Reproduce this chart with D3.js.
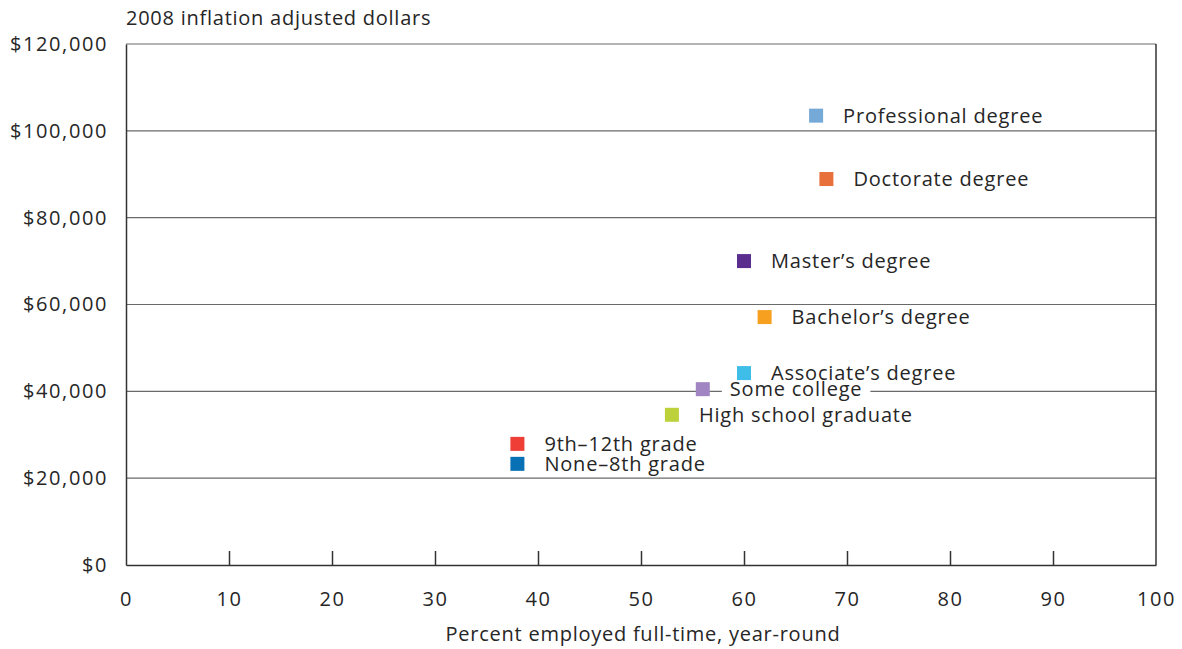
<!DOCTYPE html>
<html><head><meta charset="utf-8">
<script src="https://cdn.jsdelivr.net/npm/d3@7"></script>
<style>
body{margin:0;background:#fff;}
svg text{font-family:"Open Sans","Noto Sans",sans-serif;fill:#262626;}
</style></head>
<body><svg id="c" width="1182" height="649"></svg>
<script>
const categories = ["Professional degree","Doctorate degree","Master\u2019s degree","Bachelor\u2019s degree","Associate\u2019s degree","Some college","High school graduate","9th\u201312th grade","None\u20138th grade"];
const pctFullTime = [67, 68, 60, 62, 60, 56, 53, 38, 38];
const earnings = [103500, 88900, 70000, 57100, 44200, 40500, 34600, 27900, 23300];
const colors = ["#74a9d8","#e8703a","#5b2d8e","#f7a01f","#3dbde8","#a185c2","#bdd13b","#ee3e36","#0870b5"];
const xTicks = [0,10,20,30,40,50,60,70,80,90,100];
const yTicks = [0,20000,40000,60000,80000,100000,120000];
const yTitle = "2008 inflation adjusted dollars";
const xTitle = "Percent employed full-time, year-round";

const svg = d3.select("#c");
const L = 126, R = 1156, T = 44, B = 565;
const x = d3.scaleLinear().domain([0,100]).range([L,R]);
const y = d3.scaleLinear().domain([0,120000]).range([B,T]);

// gridlines
svg.append("g").selectAll("line").data(yTicks.filter(d=>d>0)).join("line")
  .attr("x1",L).attr("x2",R).attr("y1",d=>y(d)).attr("y2",d=>y(d))
  .attr("stroke","#6a6a6a").attr("stroke-width",1.2);

// right border
svg.append("line").attr("x1",R).attr("x2",R).attr("y1",T).attr("y2",B).attr("stroke","#333").attr("stroke-width",1.5);

// y axis
const yAxis = d3.axisLeft(y).tickValues(yTicks).tickSize(0).tickPadding(18)
  .tickFormat(d=>"$"+d3.format(",")(d));
const gy = svg.append("g").attr("transform",`translate(${L},0)`).call(yAxis);
gy.select(".domain").attr("stroke","#333").attr("stroke-width",1.5);
gy.selectAll("text").attr("font-size",20).attr("font-family",null).attr("fill","#262626").style("letter-spacing","1.6px");

// x axis (ticks pointing inward)
const xAxis = d3.axisBottom(x).tickValues(xTicks).tickSizeInner(-14).tickSizeOuter(0).tickPadding(27);
const gx = svg.append("g").attr("transform",`translate(0,${B})`).call(xAxis);
gx.select(".domain").attr("stroke","#333").attr("stroke-width",1.5);
gx.selectAll(".tick line").attr("stroke","#333").attr("stroke-width",1.5);
gx.selectAll(".tick").filter(d=>d===0||d===100).select("line").remove();
gx.selectAll("text").attr("font-size",20).attr("font-family",null).attr("fill","#262626").style("letter-spacing","1.6px");

// titles
svg.append("text").attr("x",L).attr("y",25).attr("font-size",20).style("letter-spacing","0.75px").text(yTitle);
svg.append("text").attr("x",(L+R)/2 + 2).attr("y",641).attr("text-anchor","middle").attr("font-size",20).style("letter-spacing","0.75px").text(xTitle);

// points
const data = categories.map((c,i)=>({c, px:pctFullTime[i], v:earnings[i], col:colors[i]}));
const pts = svg.append("g");
const labels = pts.selectAll("text").data(data).join("text")
  .attr("x",d=>x(d.px)+27).attr("y",d=>y(d.v)).attr("dy","0.35em")
  .attr("font-size",20).style("letter-spacing","0.8px").text(d=>d.c);
// white background behind labels (interrupts gridline)
labels.each(function(){
  const bb=this.getBBox();
  pts.insert("rect","text").attr("x",bb.x-8).attr("y",bb.y+bb.height/2-4).attr("width",bb.width+16).attr("height",8).attr("fill","#fff");
});
pts.selectAll("rect.m").data(data).join("rect").attr("class","m")
  .attr("x",d=>x(d.px)-7).attr("y",d=>y(d.v)-7).attr("width",14).attr("height",14).attr("fill",d=>d.col);
</script></body></html>
